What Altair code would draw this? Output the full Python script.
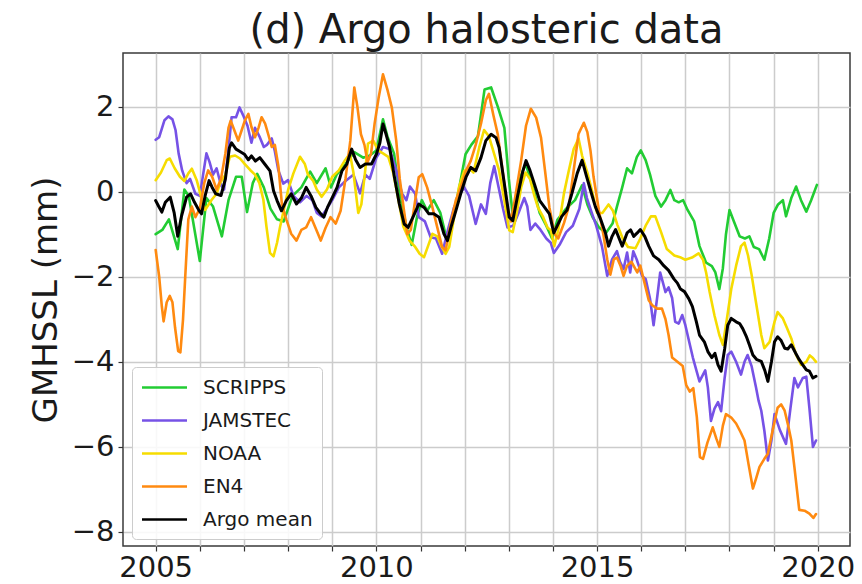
import altair as alt
import pandas as pd

# ---------------- data ----------------
names = ["SCRIPPS", "JAMSTEC", "NOAA", "EN4", "Argo mean"]
colors = ["#22cc33", "#7652e6", "#f6dc00", "#ff8a10", "#000000"]

scripps_t = [2005.0, 2005.15, 2005.3, 2005.5, 2005.65, 2005.75, 2006.0, 2006.15, 2006.3, 2006.5,
             2006.65, 2006.82, 2006.95, 2007.07, 2007.2, 2007.3, 2007.45, 2007.6, 2007.75, 2007.9,
             2008.1, 2008.3, 2008.5, 2008.65, 2008.85, 2008.97, 2009.1, 2009.3, 2009.5, 2009.7,
             2009.85, 2010.0, 2010.15, 2010.25, 2010.4, 2010.55, 2010.7, 2010.8, 2010.92, 2011.03,
             2011.15, 2011.3, 2011.45, 2011.6, 2011.75, 2011.87, 2012.02, 2012.15, 2012.3, 2012.45,
             2012.6, 2012.75, 2012.9, 2013.0, 2013.1, 2013.25, 2013.38, 2013.55, 2013.7, 2013.85,
             2013.98, 2014.1, 2014.3, 2014.5, 2014.66, 2014.78, 2014.9, 2015.05, 2015.2, 2015.35,
             2015.45, 2015.57, 2015.68, 2015.79, 2015.9, 2015.99, 2016.1, 2016.2, 2016.32, 2016.45,
             2016.55, 2016.66, 2016.75, 2016.85, 2016.95, 2017.05, 2017.2, 2017.32, 2017.47, 2017.6,
             2017.68, 2017.77, 2017.85, 2017.92, 2018.0, 2018.1, 2018.23, 2018.35, 2018.45, 2018.55,
             2018.67, 2018.79, 2018.9, 2019.0, 2019.1, 2019.21, 2019.28, 2019.4, 2019.51, 2019.62,
             2019.74, 2019.85, 2019.98]
scripps_v = [-1.0, -0.9, -0.65, -1.35, 0.05, -0.1, -1.63, -0.15, -0.35, -1.05,
             -0.2, 0.35, 0.35, -0.48, 0.2, 0.42, 0.1, -0.4, -0.65, -0.7,
             -0.1, 0.1, 0.47, 0.2, 0.55, 0.1, 0.4, 0.65, 0.93, 0.8,
             0.85, 0.97, 1.7, 1.3, 0.9, -0.2, -0.9, -1.25, -0.6, -0.2,
             -0.45, -0.2, -0.5, -1.15, -0.5, 0.05, 0.88, 1.1, 1.3, 2.4,
             2.45, 2.0, 1.5, 0.3, -0.65, 0.3, 0.66, 0.1, -0.5, -0.8,
             -1.1, -0.66, -0.4, -0.2, 0.15, -0.3, -0.6, -0.85, -0.97, -0.75,
             -0.35, 0.1, 0.55, 0.43, 0.81, 0.97, 0.74, 0.4, -0.1, -0.35,
             -0.2, 0.04, -0.2, -0.25, -0.2, -0.43, -0.7, -1.28, -1.67, -1.75,
             -1.9, -2.29, -1.8, -1.0, -0.43, -0.7, -1.05, -1.1, -1.05, -1.3,
             -1.35, -1.6, -1.1, -0.5, -0.3, -0.2, -0.58, -0.15, 0.12, -0.2,
             -0.47, -0.2, 0.16]

jamstec_t = [2005.0, 2005.08, 2005.2, 2005.29, 2005.38, 2005.45, 2005.52, 2005.6, 2005.7, 2005.78,
             2005.9, 2006.0, 2006.15, 2006.22, 2006.3, 2006.38, 2006.48, 2006.55, 2006.65, 2006.72,
             2006.82, 2006.9, 2006.98, 2007.08, 2007.17, 2007.25, 2007.35, 2007.45, 2007.52, 2007.63,
             2007.7, 2007.78, 2007.89, 2008.0, 2008.12, 2008.27, 2008.42, 2008.55, 2008.65, 2008.76,
             2008.88, 2009.0, 2009.15, 2009.3, 2009.48, 2009.63, 2009.75, 2009.85, 2010.0, 2010.15,
             2010.3, 2010.45, 2010.58, 2010.68, 2010.76, 2010.88, 2010.96, 2011.1, 2011.23, 2011.35,
             2011.49, 2011.62, 2011.76, 2011.87, 2011.99, 2012.1, 2012.25, 2012.37, 2012.48, 2012.58,
             2012.67, 2012.77, 2012.87, 2012.97, 2013.1, 2013.22, 2013.35, 2013.42, 2013.49, 2013.6,
             2013.72, 2013.85, 2013.95, 2014.02, 2014.15, 2014.3, 2014.45, 2014.6, 2014.7, 2014.77,
             2014.88, 2014.98, 2015.11, 2015.23, 2015.34, 2015.45, 2015.52, 2015.6, 2015.68, 2015.75,
             2015.82, 2015.9, 2016.02, 2016.1, 2016.2, 2016.28, 2016.36, 2016.43, 2016.55, 2016.62,
             2016.7, 2016.77, 2016.85, 2016.93, 2017.0, 2017.08, 2017.17, 2017.25, 2017.32, 2017.4,
             2017.45, 2017.51, 2017.58, 2017.66, 2017.74, 2017.81, 2017.89, 2017.96, 2018.04, 2018.15,
             2018.26, 2018.34, 2018.41, 2018.5, 2018.6, 2018.66, 2018.72, 2018.79, 2018.87, 2018.95,
             2019.02, 2019.14, 2019.28, 2019.38, 2019.47, 2019.55, 2019.66, 2019.74, 2019.81, 2019.89,
             2019.96]
jamstec_v = [1.22, 1.28, 1.68, 1.77, 1.7, 1.45, 0.9, 0.5, 0.2, 0.3,
             -0.05, -0.1, 0.9, 0.7, 0.4, 0.55, 0.15, 0.05, 1.0, 1.75,
             1.75, 1.98, 1.8, 1.55, 1.15, 1.5, 1.3, 1.05, 1.1, 1.25,
             0.95, 0.5, 0.19, 0.27, -0.1, -0.25, -0.1, -0.2, -0.5, -0.58,
             -0.4, -0.2, 0.1, 0.25, 0.4, -0.04, 0.4, 0.3, 0.8, 1.05,
             1.0, 0.5, -0.04, -0.2, 0.12, -0.05, -0.6, -0.7, -1.07, -1.1,
             -1.46, -0.9, -0.37, -0.1, 0.1, -0.1, -0.76, -0.3, -0.52, 0.2,
             0.6, 0.1, -0.4, -0.84, -0.8, -0.5, -0.15, -0.35, -0.9, -0.75,
             -0.9, -1.1, -1.2, -1.44, -1.25, -0.95, -0.8, -0.4, 0.2, -0.15,
             -0.5, -0.8, -1.28, -1.98, -1.59, -1.4, -1.65, -1.82, -1.43, -1.9,
             -1.4, -1.6, -1.98, -2.05, -2.52, -3.14, -2.5, -1.9, -2.36, -2.25,
             -2.5, -3.06, -3.1, -2.9, -3.14, -3.5, -3.9, -4.2, -4.46, -4.3,
             -4.2, -4.6, -5.39, -5.1, -4.95, -5.16, -4.38, -3.84, -3.76, -4.0,
             -4.3, -4.0, -3.84, -4.1, -4.6, -4.92, -5.15, -5.62, -6.32, -5.85,
             -5.23, -5.6, -5.93, -5.1, -4.38, -4.6, -4.38, -4.35, -5.08, -6.0,
             -5.85]

noaa_t = [2005.0, 2005.12, 2005.25, 2005.32, 2005.43, 2005.55, 2005.65, 2005.74, 2005.82, 2005.93,
          2006.05, 2006.12, 2006.27, 2006.38, 2006.46, 2006.58, 2006.68, 2006.8, 2006.91, 2007.02,
          2007.14, 2007.25, 2007.35, 2007.44, 2007.51, 2007.59, 2007.67, 2007.75, 2007.82, 2007.92,
          2008.0, 2008.12, 2008.27, 2008.38, 2008.45, 2008.57, 2008.65, 2008.76, 2008.88, 2009.0,
          2009.15, 2009.29, 2009.4, 2009.48, 2009.59, 2009.66, 2009.74, 2009.81, 2009.93, 2010.04,
          2010.15, 2010.27, 2010.38, 2010.5, 2010.61, 2010.75, 2010.88, 2010.98, 2011.08, 2011.18,
          2011.27, 2011.38, 2011.48, 2011.57, 2011.65, 2011.76, 2011.87, 2011.99, 2012.1, 2012.2,
          2012.33, 2012.44, 2012.55, 2012.67, 2012.78, 2012.9, 2013.01, 2013.09, 2013.18, 2013.28,
          2013.38, 2013.48, 2013.58, 2013.66, 2013.78, 2013.88, 2013.95, 2014.03, 2014.12, 2014.25,
          2014.36, 2014.47, 2014.58, 2014.66, 2014.78, 2014.89, 2015.0, 2015.12, 2015.26, 2015.36,
          2015.46, 2015.58, 2015.7, 2015.87, 2015.98, 2016.1, 2016.22, 2016.32, 2016.45, 2016.58,
          2016.75, 2016.9, 2017.0, 2017.15, 2017.3, 2017.4, 2017.47, 2017.55, 2017.66, 2017.77,
          2017.85, 2017.94, 2018.04, 2018.15, 2018.26, 2018.34, 2018.42, 2018.5, 2018.6, 2018.72,
          2018.79, 2018.91, 2019.02, 2019.09, 2019.21, 2019.3, 2019.4, 2019.51, 2019.62, 2019.74,
          2019.82, 2019.89, 2019.96]
noaa_v = [0.27, 0.45, 0.74, 0.78, 0.55, 0.35, 0.25, 0.43, 0.54, 0.27,
          -0.2, -0.43, -0.19, -0.05, 0.2, 0.4, 0.82, 0.85, 0.78, 0.65,
          0.51, 0.4, 0.2, -0.19, -0.82, -1.44, -1.52, -1.2, -0.82, -0.35,
          0.04, 0.43, 0.82, 0.65, 0.4, 0.25, 0.05, -0.12, 0.05, 0.35,
          0.5, 0.74, 0.9, 0.45, -0.5, -0.3, 0.43, 1.13, 1.2, 0.97,
          0.9, 0.82, 0.45, -0.19, -0.82, -1.15, -1.3, -1.46, -1.54, -1.25,
          -0.99, -1.05, -1.3, -1.46, -1.3, -0.6, 0.1, 0.49, 0.55, 0.45,
          1.04, 1.45, 1.3, 0.88, 0.5, -0.2, -0.91, -0.95, -0.5, 0.1,
          0.45, 0.3, -0.1, -0.37, -0.6, -0.85, -0.9, -1.28, -0.9, -0.04,
          0.5, 1.0, 1.25, 0.85, 0.45, 0.0, -0.5, -0.5, -0.3, -0.45,
          -0.78, -1.1, -1.3, -1.33, -1.1, -0.8, -0.58, -0.58, -0.95, -1.35,
          -1.5, -1.55, -1.6, -1.55, -1.45, -1.6, -1.9, -2.36, -2.91, -3.37,
          -3.6, -3.0, -2.29, -1.74, -1.28, -1.2, -1.5, -1.95, -2.6, -3.37,
          -3.68, -3.53, -3.06, -2.83, -2.98, -3.2, -3.45, -3.84, -4.07, -4.0,
          -3.85, -3.91, -4.0]

en4_t = [2005.0, 2005.08, 2005.14, 2005.18, 2005.25, 2005.32, 2005.38, 2005.44, 2005.51, 2005.56,
         2005.62, 2005.67, 2005.74, 2005.82, 2005.9, 2006.0, 2006.1, 2006.19, 2006.28, 2006.38,
         2006.48, 2006.58, 2006.65, 2006.7, 2006.78, 2006.87, 2006.95, 2007.02, 2007.1, 2007.17,
         2007.25, 2007.33, 2007.4, 2007.48, 2007.55, 2007.63, 2007.7, 2007.78, 2007.86, 2007.96,
         2008.07, 2008.19, 2008.3, 2008.41, 2008.52, 2008.62, 2008.74, 2008.85, 2008.96, 2009.08,
         2009.19, 2009.3, 2009.41, 2009.5, 2009.57, 2009.65, 2009.73, 2009.8, 2009.88, 2009.96,
         2010.05, 2010.15, 2010.25, 2010.35, 2010.45, 2010.53, 2010.62, 2010.7, 2010.78, 2010.88,
         2010.96, 2011.04, 2011.15, 2011.27, 2011.38, 2011.49, 2011.57, 2011.68, 2011.8, 2011.91,
         2012.03, 2012.14, 2012.25, 2012.37, 2012.48, 2012.55, 2012.65, 2012.75, 2012.87, 2012.97,
         2013.05, 2013.15, 2013.28, 2013.39, 2013.5, 2013.62, 2013.73, 2013.82, 2013.92, 2014.04,
         2014.12, 2014.25, 2014.36, 2014.47, 2014.58, 2014.7, 2014.78, 2014.85, 2014.92, 2015.04,
         2015.15, 2015.23, 2015.3, 2015.38, 2015.45, 2015.53, 2015.6, 2015.68, 2015.78, 2015.91,
         2015.98, 2016.09, 2016.17, 2016.25, 2016.36, 2016.47, 2016.55, 2016.62, 2016.7, 2016.82,
         2016.94, 2017.02, 2017.1, 2017.18, 2017.26, 2017.33, 2017.4, 2017.5, 2017.62, 2017.7,
         2017.77, 2017.85, 2017.92, 2018.04, 2018.15, 2018.25, 2018.34, 2018.43, 2018.53, 2018.6,
         2018.68, 2018.79, 2018.87, 2018.98, 2019.09, 2019.17, 2019.25, 2019.33, 2019.4, 2019.47,
         2019.58, 2019.7, 2019.81, 2019.9, 2019.96]
en4_v = [-1.37, -2.0, -2.7, -3.05, -2.6, -2.45, -2.6, -3.2, -3.75, -3.78,
         -3.0, -2.0, -0.65, -0.35, -0.6, -0.4, 0.2, 0.5, 0.35, 0.05,
         0.3, 0.9, 1.5, 1.67, 1.45, 1.2, 1.45, 1.67, 1.83, 1.52,
         1.28, 1.5, 1.75, 1.6, 1.35, 1.05, 1.1, 0.6, -0.3, -0.65,
         -0.99, -1.15, -0.9, -0.84, -0.6, -0.85, -1.15, -0.85, -0.6, -0.75,
         -0.45, 0.3, 1.2, 2.45, 2.0, 1.35, 1.1, 0.7, 0.9, 1.6,
         2.2, 2.76, 2.4, 1.98, 1.2, 0.3, -0.4, -1.0, -0.9, -0.2,
         0.34, 0.41, 0.1, -0.37, -0.84, -1.3, -1.38, -0.76, -0.2, 0.1,
         0.49, 0.73, 1.1, 1.6, 2.15, 2.3, 1.8, 1.35, 0.4, -0.37,
         -0.7, -0.1, 0.73, 1.55, 1.95, 1.74, 1.27, 0.5, -0.37, -1.0,
         -1.1, -0.74, -0.35, 0.5, 1.36, 1.62, 1.4, 0.97, 0.35, -0.43,
         -1.05, -1.59, -1.95, -1.59, -1.55, -1.74, -1.98, -1.74, -1.65, -1.9,
         -1.74, -2.21, -2.55, -2.67, -2.75, -2.75, -3.0, -3.37, -3.9, -4.0,
         -4.1, -4.55, -4.7, -4.62, -5.3, -6.24, -6.28, -5.9, -5.54, -5.8,
         -6.0, -5.5, -5.23, -5.31, -5.45, -5.65, -5.85, -6.4, -6.98, -6.75,
         -6.47, -6.28, -6.16, -5.6, -5.08, -5.0, -5.15, -5.5, -5.85, -6.47,
         -7.48, -7.5, -7.57, -7.67, -7.58]

mean_t = [2005.0, 2005.07, 2005.14, 2005.22, 2005.33, 2005.42, 2005.5, 2005.58, 2005.7, 2005.79,
          2005.88, 2005.98, 2006.04, 2006.12, 2006.21, 2006.28, 2006.36, 2006.48, 2006.58, 2006.67,
          2006.72, 2006.82, 2006.9, 2007.01, 2007.1, 2007.17, 2007.26, 2007.36, 2007.47, 2007.59,
          2007.67, 2007.75, 2007.85, 2007.96, 2008.07, 2008.19, 2008.3, 2008.41, 2008.52, 2008.63,
          2008.74, 2008.81, 2008.9, 2009.0, 2009.11, 2009.22, 2009.33, 2009.44, 2009.53, 2009.63,
          2009.75, 2009.89, 2010.0, 2010.08, 2010.15, 2010.22, 2010.3, 2010.41, 2010.52, 2010.63,
          2010.72, 2010.85, 2010.96, 2011.08, 2011.19, 2011.3, 2011.42, 2011.53, 2011.61, 2011.7,
          2011.8, 2011.91, 2012.03, 2012.14, 2012.25, 2012.37, 2012.48, 2012.6, 2012.71, 2012.78,
          2012.9, 2013.01, 2013.09, 2013.2, 2013.32, 2013.39, 2013.48, 2013.58, 2013.7, 2013.8,
          2013.92, 2014.02, 2014.1, 2014.2, 2014.32, 2014.43, 2014.55, 2014.66, 2014.75, 2014.85,
          2014.96, 2015.08, 2015.19, 2015.26, 2015.34, 2015.42, 2015.5, 2015.57, 2015.68, 2015.76,
          2015.83, 2015.91, 2015.98, 2016.08, 2016.17, 2016.28, 2016.4, 2016.51, 2016.62, 2016.74,
          2016.82, 2016.89, 2016.98, 2017.08, 2017.16, 2017.25, 2017.32, 2017.43, 2017.51, 2017.6,
          2017.67, 2017.74, 2017.81, 2017.89, 2017.96, 2018.04, 2018.15, 2018.23, 2018.3, 2018.38,
          2018.45, 2018.53, 2018.62, 2018.72, 2018.8, 2018.87, 2018.95, 2019.02, 2019.09, 2019.17,
          2019.25, 2019.32, 2019.4, 2019.5, 2019.58, 2019.66, 2019.74, 2019.81, 2019.89, 2019.96]
mean_v = [-0.21, -0.35, -0.48, -0.25, -0.13, -0.5, -1.05, -0.6, -0.13, -0.05,
          -0.25, -0.44, -0.52, -0.1, 0.26, 0.1, -0.05, -0.09, 0.3, 1.03,
          1.15, 1.0, 0.95, 0.88, 0.75, 0.84, 0.72, 0.8, 0.65, 0.49,
          0.02, -0.21, -0.45, -0.21, -0.05, -0.29, -0.15, 0.1, -0.1, -0.37,
          -0.52, -0.6, -0.35, -0.14, 0.1, 0.49, 0.65, 1.0, 0.75, 0.57,
          0.65, 0.65, 0.88, 1.15, 1.59, 1.35, 1.04, 0.34, -0.29, -0.76,
          -0.84, -0.55, -0.29, -0.37, -0.52, -0.52, -0.6, -0.99, -1.15, -0.8,
          -0.45, -0.05, 0.34, 0.57, 0.49, 0.8, 1.2, 1.35, 1.27, 1.04,
          0.18, -0.6, -0.68, -0.1, 0.49, 0.73, 0.5, 0.18, -0.21, -0.35,
          -0.52, -0.97, -0.8, -0.58, -0.43, -0.04, 0.43, 0.74, 0.4, 0.04,
          -0.35, -0.65, -0.97, -1.28, -1.05, -0.89, -1.1, -1.28, -0.97, -0.9,
          -1.05, -0.97, -0.89, -1.05, -1.28, -1.51, -1.6, -1.74, -1.85, -2.05,
          -2.15, -2.29, -2.35, -2.52, -2.7, -3.06, -3.37, -3.53, -3.76, -3.9,
          -3.8, -4.07, -4.22, -3.7, -3.14, -2.98, -3.06, -3.1, -3.22, -3.4,
          -3.6, -3.84, -3.95, -3.99, -4.2, -4.46, -4.0, -3.53, -3.41, -3.5,
          -3.68, -3.7, -3.6, -3.8, -3.95, -4.07, -4.19, -4.22, -4.38, -4.34]

year_ticks = list(range(2005, 2021))
y_ticks = [-8, -6, -4, -2, 0, 2]

series = [
    ("SCRIPPS", scripps_t, scripps_v, 2.6),
    ("JAMSTEC", jamstec_t, jamstec_v, 2.6),
    ("NOAA", noaa_t, noaa_v, 2.6),
    ("EN4", en4_t, en4_v, 2.6),
    ("Argo mean", mean_t, mean_v, 3.0),
]

FONT = "DejaVu Sans"
TXT = "#1a1a1a"

x_enc = alt.X(
    "year:Q",
    scale=alt.Scale(domain=[2004.26, 2020.73], nice=False, zero=False),
    axis=alt.Axis(
        values=year_ticks,
        labelExpr="datum.value % 5 == 0 ? format(datum.value, 'd') : ''",
        title=None,
        labelFont=FONT, labelFontSize=29, labelColor=TXT,
        labelPadding=2, labelFlush=False, labelOverlap=False,
        tickSize=5, tickColor="#333333", tickWidth=1.2,
        grid=True, gridColor="#cccccc", gridWidth=1.5,
        domain=False,
    ),
)
y_enc = alt.Y(
    "value:Q",
    scale=alt.Scale(domain=[-8.33, 3.26], nice=False, zero=False),
    axis=alt.Axis(
        values=y_ticks,
        labelExpr="replace(format(datum.value, 'd'), '-', '\u2212')",
        title="GMHSSL (mm)",
        titleFont=FONT, titleFontSize=34, titleFontWeight="normal", titleColor=TXT,
        titlePadding=8,
        labelFont=FONT, labelFontSize=29, labelColor=TXT,
        labelPadding=4, labelFlush=False, labelOverlap=False,
        tickSize=5, tickColor="#333333", tickWidth=1.2,
        grid=True, gridColor="#cccccc", gridWidth=1.5,
        domain=False,
    ),
)

legend = alt.Legend(
    title=None,
    orient="none",
    legendX=9,
    legendY=314,
    symbolType="M-2.25,0H2.25",
    symbolSize=400,
    symbolStrokeWidth=2.6,
    symbolOffset=12,
    labelFont=FONT,
    labelFontSize=20,
    labelColor=TXT,
    labelOffset=27,
    rowPadding=11,
    padding=9,
    fillColor="rgba(255,255,255,0.85)",
    strokeColor="#cccccc",
    cornerRadius=4,
)

layers = []
for name, ts, vs, sw in series:
    df = pd.DataFrame({"year": ts, "value": vs, "series": name})
    layers.append(
        alt.Chart(df)
        .mark_line(strokeWidth=sw, strokeJoin="round", strokeCap="round")
        .encode(
            x=x_enc,
            y=y_enc,
            color=alt.Color("series:N", scale=alt.Scale(domain=names, range=colors), legend=legend),
        )
    )

chart = (
    alt.layer(*layers)
    .properties(
        width=727,
        height=493,
        title=alt.TitleParams(
            "(d) Argo halosteric data",
            font=FONT, fontSize=40, fontWeight="normal", color=TXT,
            anchor="middle", offset=2,
        ),
        padding={"left": 123, "top": 53, "right": 12, "bottom": 38},
        autosize=alt.AutoSizeParams(type="none"),
        background="white",
    )
    .configure_view(stroke="#3a3a3a", strokeWidth=1.5)
)

chart.save("out.html", embed_options={"renderer": "svg", "actions": False})
